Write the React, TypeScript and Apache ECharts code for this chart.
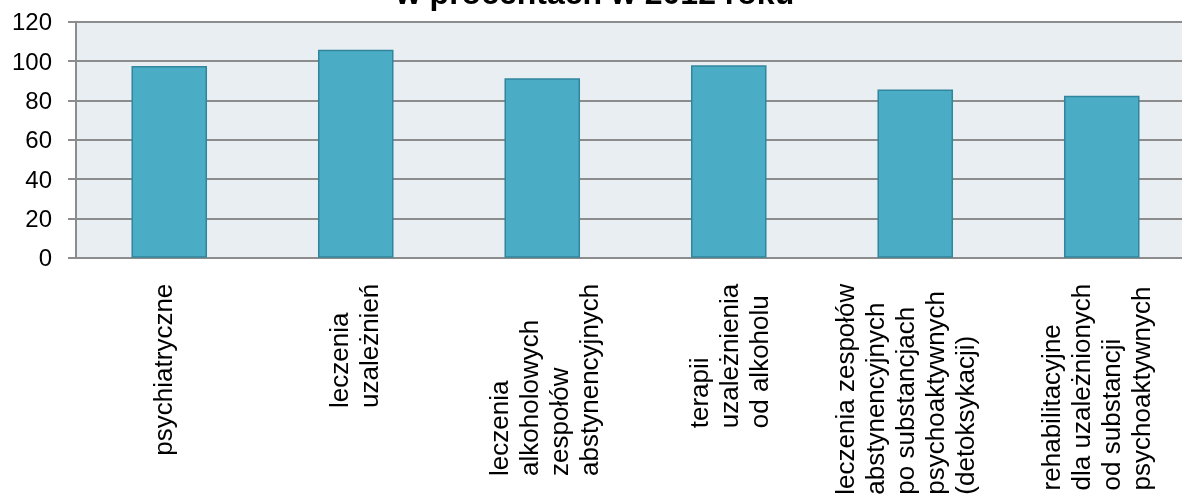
import React, { useEffect, useRef } from "react";
import * as echarts from "echarts";

const categories = [
  "psychiatryczne",
  "leczenia\nuzależnień",
  "leczenia\nalkoholowych\nzespołów\nabstynencyjnych",
  "terapii\nuzależnienia\nod alkoholu",
  "leczenia zespołów\nabstynencyjnych\npo substancjach\npsychoaktywnych\n(detoksykacji)",
  "rehabilitacyjne\ndla uzależnionych\nod substancji\npsychoaktywnych",
];
const values = [97.5, 105.7, 91.2, 97.8, 85.5, 82.4];
const titleText = "w procentach w 2012 roku";
const yMin = 0;
const yMax = 120;
const yInterval = 20;

const FONT = "'Liberation Sans', Arial, sans-serif";

// small horizontal nudges of the wrapped labels (px, negative = left)
const labelNudge = [-6, -2, 2, 0, -10, -6];

export default function App() {
  const ref = useRef<HTMLDivElement>(null);
  useEffect(() => {
    if (!ref.current) return;
    const chart = echarts.init(ref.current, undefined, { renderer: "svg" });
    const rich: Record<string, any> = {
      a: {
        align: "left",
        fontSize: 26,
        fontFamily: FONT,
        color: "#000",
        lineHeight: 30,
      },
    };
    labelNudge.forEach((n) => {
      const h = Math.abs(n) * 2;
      if (h > 0) rich["p" + h] = { fontSize: 1, lineHeight: h };
    });
    chart.setOption({
      animation: false,
      graphic: [
        {
          type: "text",
          x: 595,
          y: -7,
          style: {
            text: titleText,
            font: `bold 32px ${FONT}`,
            fill: "#000",
            textAlign: "center",
            textVerticalAlign: "middle",
          },
        },
      ],
      grid: {
        left: 76,
        top: 21.7,
        bottom: 239.3,
        right: -13,
        show: true,
        backgroundColor: "#E8EEF2",
        borderWidth: 0,
        containLabel: false,
        outerBoundsMode: "none",
      },
      xAxis: {
        type: "category",
        data: categories,
        axisLine: { show: true, lineStyle: { color: "#8C8C8C", width: 2 } },
        axisTick: { show: false },
        axisLabel: {
          rotate: 90,
          margin: 26,
          interval: 0,
          color: "#000",
          formatter: (v: string, i: number) => {
            const body = v
              .split("\n")
              .map((l) => `{a|${l}}`)
              .join("\n");
            const n = labelNudge[i] || 0;
            const h = Math.abs(n) * 2;
            if (n < 0) return `${body}\n{p${h}| }`;
            if (n > 0) return `{p${h}| }\n${body}`;
            return body;
          },
          rich,
        },
      },
      yAxis: {
        type: "value",
        min: yMin,
        max: yMax,
        interval: yInterval,
        axisLine: { show: true, lineStyle: { color: "#8C8C8C", width: 2 } },
        axisTick: { show: true, length: 8, lineStyle: { color: "#8C8C8C", width: 2 } },
        axisLabel: {
          margin: 24,
          fontSize: 24,
          fontFamily: FONT,
          color: "#000",
        },
        splitLine: { show: true, lineStyle: { color: "#8C8C8C", width: 2 } },
      },
      series: [
        {
          type: "bar",
          data: values,
          barCategoryGap: "59.5%",
          itemStyle: {
            color: "#4BACC6",
            borderColor: "#31859C",
            borderWidth: 1.5,
          },
        },
      ],
    });
    return () => chart.dispose();
  }, []);
  return (
    <div
      ref={ref}
      style={{ position: "fixed", left: 0, top: 0, width: 1182, height: 497 }}
    />
  );
}
